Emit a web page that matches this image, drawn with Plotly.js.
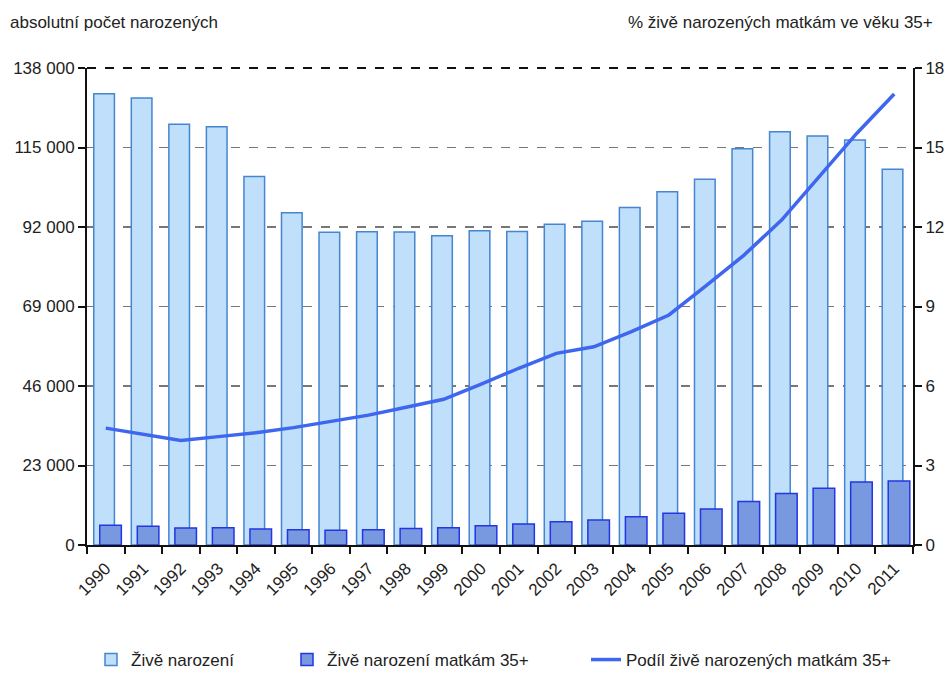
<!DOCTYPE html>
<html>
<head>
<meta charset="utf-8">
<script src="https://cdn.plot.ly/plotly-3.0.1.min.js"></script>
<style>html,body{margin:0;padding:0;background:#fff;}#chart{width:950px;height:675px;}</style>
</head>
<body>
<div id="chart"></div>
<script>
const years = ["1990","1991","1992","1993","1994","1995","1996","1997","1998","1999","2000","2001","2002","2003","2004","2005","2006","2007","2008","2009","2010","2011"];
const liveBirths = [130564,129354,121705,121025,106579,96097,90446,90657,90535,89471,90910,90715,92786,93685,97664,102211,105831,114632,119570,118348,117153,108673];
const birthsMothers35 = [5700,5400,4900,5000,4600,4400,4300,4400,4800,5000,5600,6100,6750,7200,8150,9150,10400,12600,14900,16450,18250,18550];
const share35 = [4.41,4.18,3.94,4.09,4.24,4.43,4.65,4.9,5.2,5.5,6.07,6.67,7.23,7.48,8.05,8.68,9.8,10.94,12.26,13.9,15.53,17.02];

const leftTitle = "absolutní počet narozených";
const rightTitle = "% živě narozených matkám ve věku 35+";
const names = ["Živě narození", "Živě narození matkám 35+", "Podíl živě narozených matkám 35+"];

const FONT = "'Liberation Sans Narrow', 'Arial Narrow', 'Liberation Sans', Arial, sans-serif";
const TXT = {family: FONT, size: 17, color: "#222"};

const traces = [
  {
    type: "bar", x: years, y: liveBirths, name: names[0], legend: "legend",
    width: 0.55, offset: -0.32,
    marker: {color: "#bfdffb", line: {color: "#4685d0", width: 1.5}},
    hoverinfo: "x+y"
  },
  {
    type: "bar", x: years, y: birthsMothers35, name: names[1], legend: "legend2",
    width: 0.575, offset: -0.16,
    marker: {color: "#7898e0", line: {color: "#2236e2", width: 1.5}},
    hoverinfo: "x+y"
  },
  {
    type: "scatter", mode: "lines", x: years, y: share35, name: names[2], yaxis: "y2", legend: "legend3",
    line: {color: "#3e66ee", width: 3.5},
    hoverinfo: "x+y"
  }
];

function leg(xpx) {
  return {orientation: "h", xref: "container", yref: "container", x: xpx / 950, xanchor: "left",
          y: 1 - 660 / 675, yanchor: "middle", font: TXT, bgcolor: "rgba(0,0,0,0)"};
}

const layout = {
  width: 950, height: 675,
  margin: {l: 87, r: 37, t: 68, b: 130, autoexpand: false},
  paper_bgcolor: "#fff", plot_bgcolor: "#fff",
  separators: ", ",
  font: TXT,
  barmode: "overlay",
  showlegend: true,
  legend: leg(91),
  legend2: leg(287),
  legend3: leg(586),
  xaxis: {
    type: "category", range: [-0.5, 21.5], tickangle: -45, automargin: false,
    tickson: "boundaries", ticks: "outside", ticklen: 7, tickwidth: 2, tickcolor: "#111",
    ticklabelstandoff: 5,
    showline: true, linecolor: "#111", linewidth: 2, showgrid: false,
    tickfont: TXT
  },
  yaxis: {
    range: [0, 138000], dtick: 23000, tick0: 0, tickformat: ",d", automargin: false,
    ticks: "outside", ticklen: 7, tickwidth: 2, tickcolor: "#111",
    showline: true, linecolor: "#111", linewidth: 2,
    showgrid: true, gridcolor: "#777", griddash: "dash", gridwidth: 1.5,
    zeroline: false,
    tickfont: TXT
  },
  yaxis2: {
    overlaying: "y", side: "right", range: [0, 18], dtick: 3, tick0: 0, automargin: false,
    ticks: "outside", ticklen: 7, tickwidth: 2, tickcolor: "#111",
    showline: true, linecolor: "#111", linewidth: 2, showgrid: false, zeroline: false,
    tickfont: TXT
  },
  shapes: [
    {type: "line", xref: "paper", yref: "paper", x0: 0, x1: 1, y0: 1, y1: 1,
     line: {color: "#111", width: 2, dash: "dash"}}
  ],
  annotations: [
    {text: leftTitle, xref: "paper", yref: "paper", x: 0, y: 1, xshift: -79, yshift: 46,
     xanchor: "left", yanchor: "middle", showarrow: false, font: TXT},
    {text: rightTitle, xref: "paper", yref: "paper", x: 1, y: 1, xshift: 22, yshift: 46,
     xanchor: "right", yanchor: "middle", showarrow: false, font: TXT}
  ]
};

Plotly.newPlot("chart", traces, layout, {displayModeBar: false, staticPlot: true});
</script>
</body>
</html>
